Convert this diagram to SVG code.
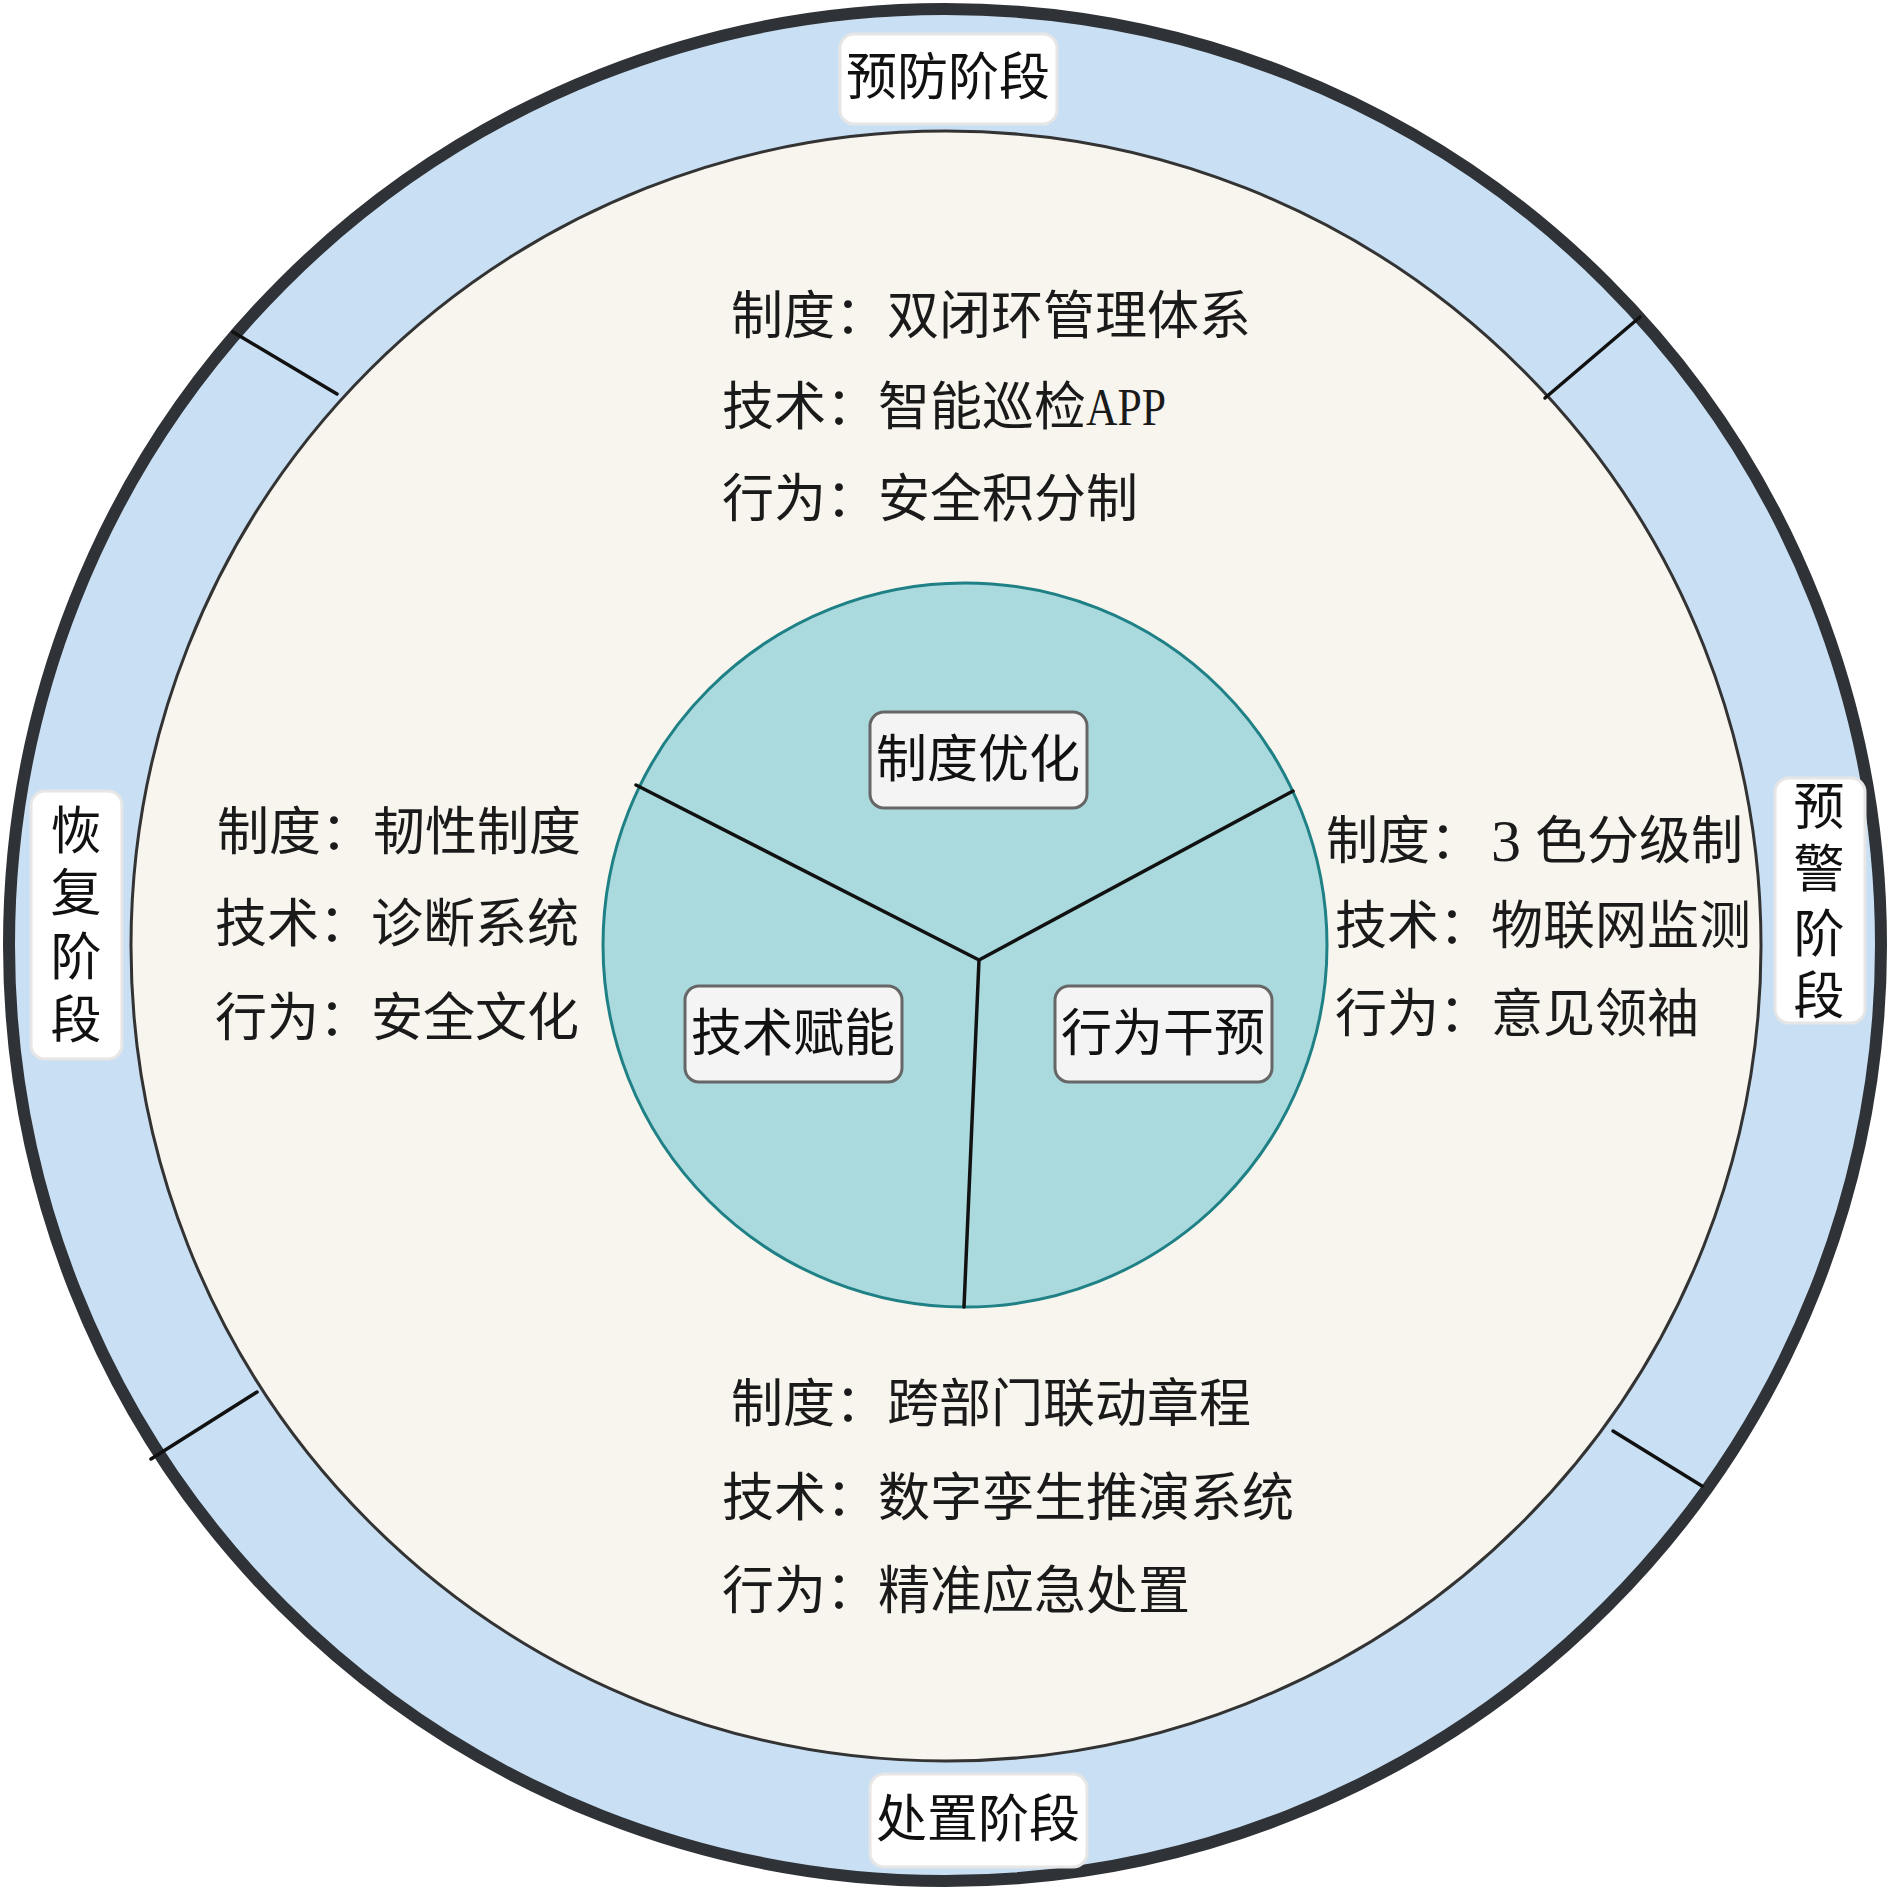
<svg xmlns="http://www.w3.org/2000/svg" width="1890" height="1890" viewBox="0 0 1890 1890">
<style>
.body{font-family:"Liberation Serif","Noto Sans CJK SC",serif;font-size:52px;fill:#1a1a1a;dominant-baseline:central}
.lbl{font-family:"Liberation Serif","Noto Sans CJK SC",serif;font-size:51px;fill:#111;dominant-baseline:central;text-anchor:middle}
.stage{fill:#ffffff;stroke:#e6e6e6;stroke-width:3}
.core{fill:#f4f4f4;stroke:#666666;stroke-width:3}
.div{stroke:#111;stroke-width:3.5;fill:none;stroke-linecap:round}
</style>
<rect width="1890" height="1890" fill="#ffffff"/>
<g id="outer-ring">
<circle cx="945" cy="945" r="936" fill="#c9dff4" stroke="#2f3236" stroke-width="12"/>
</g>
<g id="middle-disc">
<circle cx="946" cy="946" r="815" fill="#f7f5ee" stroke="#333333" stroke-width="3"/>
</g>
<g id="inner-disc">
<circle cx="965" cy="945" r="362" fill="#aadadd" stroke="#1f8086" stroke-width="3"/>
</g>
<g id="connectors">
<line class="div" x1="233" y1="332" x2="337" y2="394"/>
<line class="div" x1="1640" y1="317" x2="1545" y2="398"/>
<line class="div" x1="151" y1="1459" x2="257" y2="1392"/>
<line class="div" x1="1613" y1="1431" x2="1702" y2="1486"/>
<line class="div" x1="979" y1="960" x2="636" y2="785"/>
<line class="div" x1="979" y1="960" x2="1293" y2="791"/>
<line class="div" x1="979" y1="960" x2="964" y2="1307"/>
</g>
<g id="stage-prevent">
<rect class="stage" x="840" y="34" width="217" height="90" rx="14"/>
<text class="lbl" x="948" y="78">预防阶段</text>
</g>
<g id="stage-warn">
<rect class="stage" x="1775" y="778" width="90" height="245" rx="14"/>
<text class="lbl" x="1819" y="808">预</text>
<text class="lbl" x="1819" y="870">警</text>
<text class="lbl" x="1819" y="935">阶</text>
<text class="lbl" x="1819" y="997">段</text>
</g>
<g id="stage-handle">
<rect class="stage" x="870" y="1774" width="217" height="93" rx="14"/>
<text class="lbl" x="978" y="1820">处置阶段</text>
</g>
<g id="stage-recover">
<rect class="stage" x="31" y="791" width="91" height="268" rx="14"/>
<text class="lbl" x="76" y="832">恢</text>
<text class="lbl" x="76" y="894">复</text>
<text class="lbl" x="76" y="958">阶</text>
<text class="lbl" x="76" y="1021">段</text>
</g>
<g id="core-system">
<rect class="core" x="870" y="712" width="217" height="96" rx="14"/>
<text class="lbl" x="978" y="760">制度优化</text>
</g>
<g id="core-tech">
<rect class="core" x="685" y="986" width="217" height="96" rx="14"/>
<text class="lbl" x="793" y="1034">技术赋能</text>
</g>
<g id="core-behavior">
<rect class="core" x="1055" y="986" width="217" height="96" rx="14"/>
<text class="lbl" x="1163" y="1034">行为干预</text>
</g>
<g id="text-prevent">
<text class="body" x="731" y="316">制度：双闭环管理体系</text>
<text class="body" x="722" y="407">技术：智能巡检<tspan textLength="80" lengthAdjust="spacingAndGlyphs">APP</tspan></text>
<text class="body" x="722" y="499">行为：安全积分制</text>
</g>
<g id="text-warn">
<text class="body" x="1326" y="841">制度：<tspan x="1491" font-size="60">3</tspan><tspan x="1535">色分级制</tspan></text>
<text class="body" x="1335" y="926">技术：物联网监测</text>
<text class="body" x="1335" y="1014">行为：意见领袖</text>
</g>
<g id="text-handle">
<text class="body" x="731" y="1404">制度：跨部门联动章程</text>
<text class="body" x="722" y="1498">技术：数字孪生推演系统</text>
<text class="body" x="722" y="1591">行为：精准应急处置</text>
</g>
<g id="text-recover">
<text class="body" x="217" y="832">制度：韧性制度</text>
<text class="body" x="215" y="924">技术：诊断系统</text>
<text class="body" x="215" y="1018">行为：安全文化</text>
</g>
</svg>
